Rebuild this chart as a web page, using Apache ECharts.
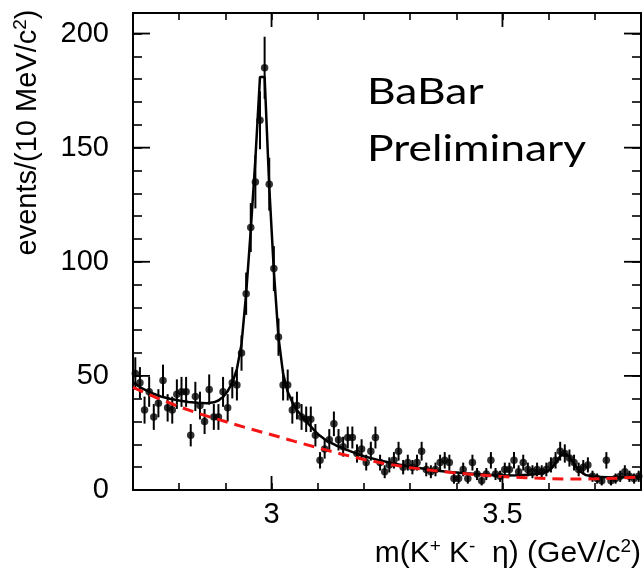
<!DOCTYPE html>
<html>
<head>
<meta charset="utf-8">
<script src="https://cdn.jsdelivr.net/npm/echarts@6/dist/echarts.min.js"></script>
<style>
  html, body { margin: 0; padding: 0; background: #ffffff; }
  #chart { width: 644px; height: 570px; }
</style>
</head>
<body>
<div id="chart"></div>
<script>
// Histogram of m(K+ K- eta): 10 MeV bins starting at 2.70 GeV
const massStart = 2.705;   // centre of the first bin
const binWidth = 0.01;

// events per bin
const counts = [
  51, 47, 35, 43, 32, 38, 48, 36, 35, 42,
  43, 43, 24, 41, 37, 30, 44, 32, 32, 43,
  36, 47, 46, 60, 86, 115, 135, 162, 185, 134,
  97, 67, 46, 46, 35, 37, 32, 31, 31, 24,
  13, 18, 22, 29, 22, 19, 23, 23, 16, 18,
  12, 17, 23, 12, 8, 11, 13, 17, 10, 12,
  10, 12, 17, 9, 8, 9, 12, 13, 12, 5,
  5, 9, 5, 12, 7, 4, 7, 13, 7, 6,
  9, 9, 13, 8, 12, 9, 8, 9, 8, 9,
  11, 13, 17, 16, 14, 12, 9, 10, 11, 6,
  5, 4, 13, 4, 5, 6, 8, 6, 5, 6
];

// total fit (signal + background)
const fitMass = [
  2.700, 2.705, 2.72, 2.74, 2.76, 2.78, 2.80, 2.82, 2.84, 2.86,
  2.875, 2.885, 2.895, 2.905, 2.915, 2.925, 2.935, 2.945, 2.955, 2.965,
  2.975, 2.985, 2.995, 3.005, 3.015, 3.025, 3.035, 3.045, 3.055, 3.065,
  3.08, 3.10, 3.12, 3.14, 3.16, 3.18, 3.20, 3.23, 3.26, 3.29,
  3.32, 3.35, 3.38, 3.42, 3.46, 3.50, 3.54, 3.57, 3.59, 3.605,
  3.615, 3.625, 3.635, 3.645, 3.655, 3.665, 3.68, 3.70, 3.74, 3.80
];
const fitEvents = [
  47, 46.5, 44.5, 42.5, 41, 40, 39.2, 38.6, 38.2, 38,
  38.4, 39.2, 40.8, 43.3, 47, 53, 64, 86, 114, 145,
  181, 181, 133, 96, 67, 51, 43, 38.5, 35, 32.5,
  29, 24.5, 21.5, 19.5, 17.8, 16.3, 14.8, 13.2, 11.8, 10.5,
  9.6, 8.7, 8.0, 7.3, 6.8, 6.4, 6.5, 6.9, 7.6, 9.2,
  11.8, 14.8, 16.0, 14.6, 11.6, 8.6, 6.6, 5.8, 5.5, 5.9
];

// background component of the fit
const bkgMass = [
  2.70, 2.75, 2.80, 2.85, 2.90, 2.95, 3.00, 3.05, 3.10, 3.15,
  3.20, 3.25, 3.30, 3.35, 3.40, 3.45, 3.50, 3.55, 3.60, 3.65,
  3.70, 3.75, 3.80
];
const bkgEvents = [
  45, 40.5, 36.5, 33, 30, 27, 24.2, 21.3, 18.5, 15.8,
  13.4, 11.4, 9.8, 8.5, 7.4, 6.6, 5.9, 5.4, 5.0, 4.8,
  4.9, 5.2, 5.7
];

// axis ranges and labelled ticks
const xRange = [2.7, 3.8];
const yRange = [0, 209];
const xTickLabels = [3, 3.5];
const yTickLabels = [0, 50, 100, 150, 200];

const FONT = 'Liberation Sans, Arial, Helvetica, sans-serif';

const binCentre = i => +(massStart + i * binWidth).toFixed(3);
const points = counts.map((n, i) => [binCentre(i), n]);
const errorBars = counts.map((n, i) => [binCentre(i), n - Math.sqrt(n), n + Math.sqrt(n)]);
const fitLine = fitMass.map((m, i) => [m, fitEvents[i]]);
const bkgLine = bkgMass.map((m, i) => [m, bkgEvents[i]]);

const findLabel = (v, list) => list.find(t => Math.abs(t - v) < 1e-6);

const axisLineStyle = { onZero: false, lineStyle: { color: '#000', width: 2 } };

function xAxisDef(position, showLabels) {
  return {
    type: 'value', position: position,
    min: xRange[0], max: xRange[1], interval: 0.1,
    axisLine: axisLineStyle,
    axisTick: { inside: true, length: 7, lineStyle: { color: '#000', width: 1.6 } },
    axisLabel: {
      show: showLabels, margin: 10, color: '#000', fontSize: 29, fontFamily: FONT,
      formatter: v => { const t = findLabel(v, xTickLabels); return t === undefined ? '' : String(t); }
    },
    splitLine: { show: false }
  };
}
function yAxisDef(position, showLabels) {
  return {
    type: 'value', position: position,
    min: yRange[0], max: yRange[1], interval: 10,
    axisLine: axisLineStyle,
    axisTick: { inside: true, length: 9, lineStyle: { color: '#000', width: 1.6 } },
    axisLabel: {
      show: showLabels, margin: 24, color: '#000', fontSize: 29, fontFamily: FONT,
      formatter: v => { const t = findLabel(v, yTickLabels); return t === undefined ? '' : String(t); }
    },
    splitLine: { show: false }
  };
}

const nameRich = {
  n: { fontSize: 29, fontFamily: FONT, color: '#000', lineHeight: 33 },
  s: { fontSize: 19, fontFamily: FONT, color: '#000', verticalAlign: 'top', lineHeight: 19 }
};

const xAxisBottom = xAxisDef('bottom', true);
xAxisBottom.name = '{n|m(K}{s|+}{n| K}{s|-}{n|  η) (GeV/c}{s|2}{n|)}';
xAxisBottom.nameLocation = 'end';
xAxisBottom.nameGap = 0;
xAxisBottom.nameTextStyle = {
  align: 'right', verticalAlign: 'top', padding: [47, 0, 0, 0],
  rich: {
    n: { fontSize: 30, fontFamily: FONT, color: '#000', lineHeight: 34 },
    s: { fontSize: 19, fontFamily: FONT, color: '#000', verticalAlign: 'top', lineHeight: 19 }
  }
};

const yAxisLeft = yAxisDef('left', true);
yAxisLeft.name = '{n|events/(10 MeV/c}{s|2}{n|)}';
yAxisLeft.nameLocation = 'middle';
yAxisLeft.nameGap = 89;
yAxisLeft.nameRotate = 90;
yAxisLeft.nameTextStyle = { padding: [0, 0, 0, 238], rich: nameRich };

// longer ticks at the labelled values on all four sides
const xMajorTicks = xTickLabels.map(v => [v, yRange[0]]);
const yMajorTicks = yTickLabels.map(v => [xRange[0], v]);

function tickLine(x1, y1, x2, y2) {
  return { type: 'line', shape: { x1, y1, x2, y2 }, style: { stroke: '#000', lineWidth: 1.8 } };
}

const option = {
  animation: false,
  backgroundColor: '#ffffff',
  grid: { left: 133, top: 13, width: 510, height: 477, containLabel: false },
  xAxis: [xAxisBottom, xAxisDef('top', false)],
  yAxis: [yAxisLeft, yAxisDef('right', false)],
  graphic: [{
    type: 'text', left: 367, top: 64, scaleX: 1.2, originX: 0,
    style: {
      text: 'BaBar\nPreliminary', fill: '#000',
      font: '37px Lato, "Open Sans", sans-serif', lineHeight: 57
    }
  }],
  series: [
    {
      name: 'fit', type: 'line', data: fitLine, showSymbol: false, z: 3,
      lineStyle: { color: '#000', width: 2.5 }
    },
    {
      name: 'errors', type: 'custom', data: errorBars, z: 4,
      encode: { x: 0, y: [1, 2] },
      renderItem: (params, api) => {
        const lo = api.coord([api.value(0), api.value(1)]);
        const hi = api.coord([api.value(0), api.value(2)]);
        return { type: 'line', shape: { x1: lo[0], y1: lo[1], x2: hi[0], y2: hi[1] },
                 style: { stroke: '#000', lineWidth: 2 } };
      }
    },
    {
      name: 'data', type: 'scatter', data: points, symbol: 'circle', symbolSize: 7.5, z: 5,
      itemStyle: { color: '#000' }
    },
    {
      name: 'background', type: 'line', data: bkgLine, showSymbol: false, z: 6,
      lineStyle: { color: '#f41414', width: 3, type: [11, 7] }
    },
    {
      name: 'xMajor', type: 'custom', data: xMajorTicks, z: 7, silent: true,
      encode: { x: 0, y: 1 },
      renderItem: (params, api) => {
        const b = api.coord([api.value(0), yRange[0]]);
        const t = api.coord([api.value(0), yRange[1]]);
        return { type: 'group', children: [
          tickLine(b[0], b[1], b[0], b[1] - 14),
          tickLine(t[0], t[1], t[0], t[1] + 14)
        ] };
      }
    },
    {
      name: 'yMajor', type: 'custom', data: yMajorTicks, z: 7, silent: true,
      encode: { x: 0, y: 1 },
      renderItem: (params, api) => {
        const l = api.coord([xRange[0], api.value(1)]);
        const r = api.coord([xRange[1], api.value(1)]);
        return { type: 'group', children: [
          tickLine(l[0], l[1], l[0] + 17, l[1]),
          tickLine(r[0], r[1], r[0] - 17, r[1])
        ] };
      }
    }
  ]
};

const chart = echarts.init(document.getElementById('chart'), null, { renderer: 'canvas' });
chart.setOption(option);
</script>
</body>
</html>
